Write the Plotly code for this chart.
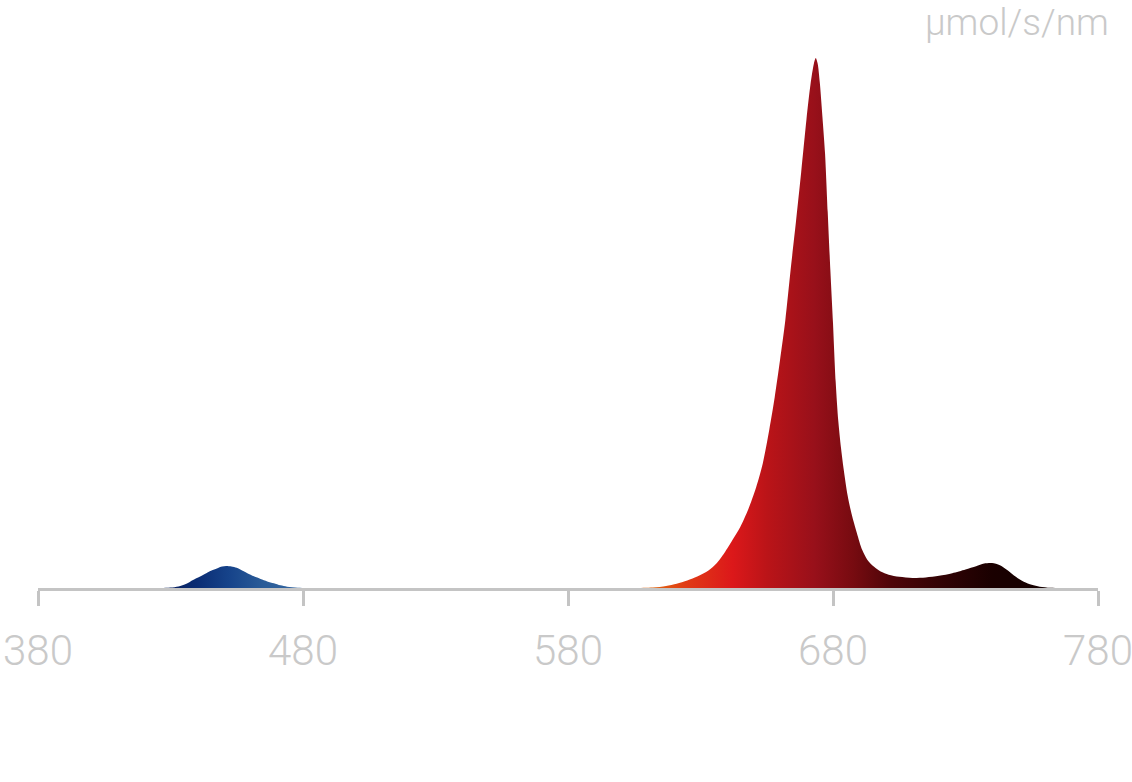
import plotly.graph_objects as go

# ── Spectrum data (relative photon flux) ─────────────────────────────────────
WAVELENGTH = [
    380, 426, 430, 433, 436, 438.5, 441, 443.5, 445.5, 447.5, 449.5, 451, 453, 455,
    457, 459, 461.5, 464, 466.5, 469, 471.5, 474, 478, 482,
    600, 605, 612, 617, 621, 625, 629, 633, 636, 639, 642, 645, 648, 651, 653.5,
    656, 658, 660, 662, 664, 666, 668, 670, 671.5, 672.8, 673.5, 674.2, 675, 676,
    677, 678, 679, 680, 681, 682, 683, 684, 685.5, 687, 689, 691, 693, 695.5, 698,
    701, 705, 710, 715, 720, 725, 730, 734, 737, 740, 743, 746, 749, 752, 755, 758,
    762, 766, 780,
]
PHOTON_FLUX = [
    0, 0, 0.001, 0.003, 0.008, 0.015, 0.021, 0.028, 0.033, 0.037, 0.0405, 0.0415, 0.0405, 0.038,
    0.033, 0.028, 0.022, 0.017, 0.0125, 0.009, 0.005, 0.0025, 0.0005, 0,
    0, 0, 0.001, 0.004, 0.008, 0.014, 0.022, 0.033, 0.046, 0.066, 0.09, 0.115, 0.148, 0.19, 0.235,
    0.3, 0.36, 0.43, 0.505, 0.6, 0.69, 0.785, 0.885, 0.95, 0.99, 1.0, 0.99, 0.955, 0.89,
    0.82, 0.71, 0.6, 0.5, 0.39, 0.315, 0.265, 0.225, 0.175, 0.14, 0.104, 0.072, 0.053, 0.04, 0.031,
    0.025, 0.021, 0.019, 0.02, 0.023, 0.028, 0.035, 0.041, 0.046, 0.047, 0.043, 0.033, 0.021, 0.012, 0.006, 0.0025,
    0.0005, 0, 0,
]

TICKS = [380, 480, 580, 680, 780]
TICK_TEXT = ["380", "480", "580", "680", "780"]
UNIT_LABEL = "μmol/s/nm"

# colour of the fill along the wavelength axis
GRAD_NM = [380, 428, 440, 452, 465, 478, 600, 612, 625, 642, 655, 673, 688, 702, 720, 740, 780]
GRAD_COLORS = [
    "#081f5c", "#081f5c", "#0b2d74", "#16438a", "#2a5c98", "#3566a0", "#e0640f",
    "#e0640f", "#e03a16", "#dc181a", "#bb1418", "#98101a", "#760b10", "#4e0509",
    "#330305", "#1a0000", "#0e0000",
]

AXIS_GREY = "#c4c4c4"
TEXT_GREY = "#c9c9c9"
FONT = "Roboto, Inter, sans-serif"
X_MIN, X_MAX = 380, 780

colorscale = [[(nm - X_MIN) / (X_MAX - X_MIN), c] for nm, c in zip(GRAD_NM, GRAD_COLORS)]

fig = go.Figure()
fig.add_trace(
    go.Scatter(
        x=WAVELENGTH,
        y=PHOTON_FLUX,
        mode="lines",
        line=dict(width=0, shape="spline", smoothing=0.8),
        fill="tozeroy",
        fillgradient=dict(type="horizontal", colorscale=colorscale, start=X_MIN, stop=X_MAX),
        hoverinfo="skip",
        showlegend=False,
    )
)
# invisible trace on the overlay axis so the end ticks get drawn
fig.add_trace(
    go.Scatter(x=[X_MIN, X_MAX], y=[0, 0], xaxis="x2", mode="lines",
               line=dict(width=0), hoverinfo="skip", showlegend=False)
)

fig.update_layout(
    width=1132,
    height=782,
    margin=dict(l=38, r=34, t=30, b=194),
    paper_bgcolor="white",
    plot_bgcolor="white",
    font=dict(family=FONT, color=TEXT_GREY, weight=300),
    xaxis=dict(
        range=[X_MIN, X_MAX],
        tickvals=TICKS,
        ticktext=TICK_TEXT,
        ticks="outside",
        ticklen=15,
        tickwidth=3,
        tickcolor=AXIS_GREY,
        showline=True,
        linecolor=AXIS_GREY,
        linewidth=3,
        showgrid=False,
        zeroline=False,
        automargin=False,
        ticklabeloverflow="allow",
        tickfont=dict(family=FONT, size=42, color=TEXT_GREY, weight=300),
        ticklabelstandoff=9,
    ),
    xaxis2=dict(
        range=[X_MIN, X_MAX],
        overlaying="x",
        anchor="y",
        side="bottom",
        tickvals=[X_MIN, X_MAX],
        ticks="inside",
        ticklen=13,
        tickwidth=3,
        tickcolor=AXIS_GREY,
        showticklabels=False,
        showline=False,
        showgrid=False,
        zeroline=False,
        automargin=False,
    ),
    yaxis=dict(
        range=[0, 1.053],
        visible=False,
        showgrid=False,
        zeroline=False,
        automargin=False,
    ),
    annotations=[
        dict(
            text=UNIT_LABEL,
            xref="paper", yref="paper",
            x=1.0113, y=1.013,
            xanchor="right", yanchor="middle",
            showarrow=False,
            borderpad=0,
            font=dict(family=FONT, size=37, color=TEXT_GREY, weight=300),
        )
    ],
)

# drop the default 8px page margin so the figure fills the window exactly
fig.write_html(
    "out.html",
    config={"displayModeBar": False},
    post_script="document.body.style.margin = '0';",
)
